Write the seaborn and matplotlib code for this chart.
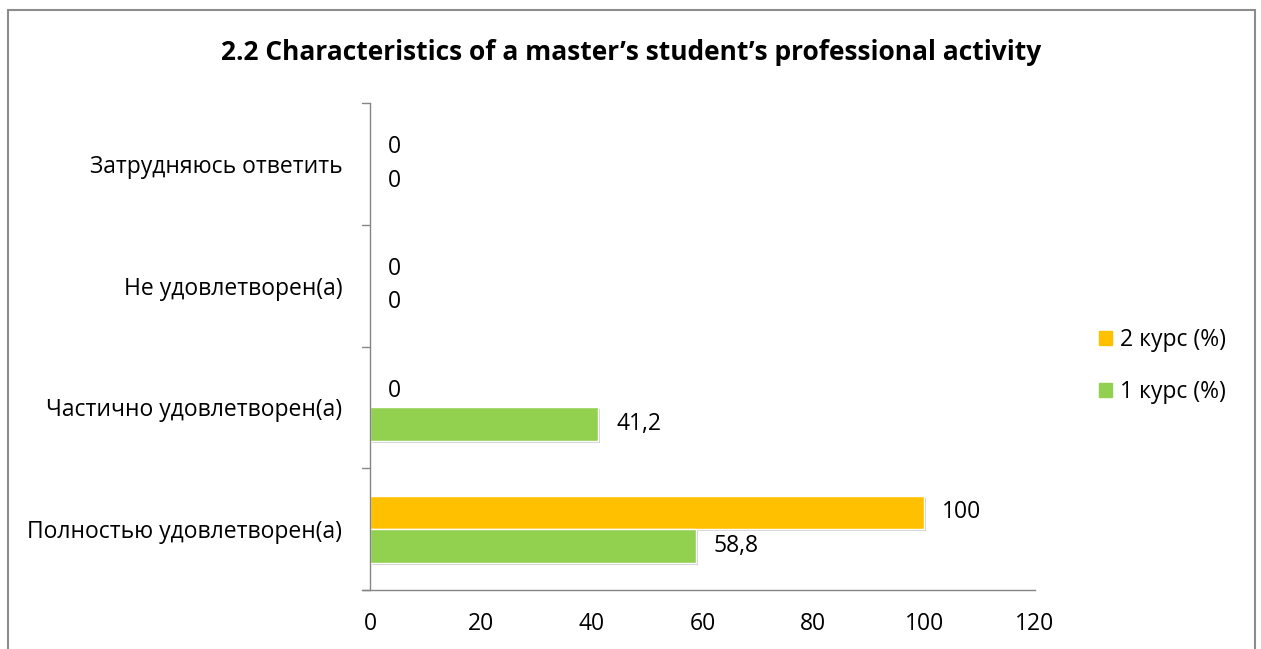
import matplotlib
matplotlib.use("Agg")
import matplotlib.pyplot as plt
import matplotlib.patches as mpatches
import matplotlib.patheffects as pe
import seaborn as sns
import pandas as pd

categories = ["Затрудняюсь ответить", "Не удовлетворен(а)", "Частично удовлетворен(а)", "Полностью удовлетворен(а)"]
series_names = ["2 курс (%)", "1 курс (%)"]
values_2 = [0, 0, 0, 100]
values_1 = [0, 0, 41.2, 58.8]
x_ticks = [0, 20, 40, 60, 80, 100, 120]
title = "2.2 Characteristics of a master’s student’s professional activity"
colors = {"2 курс (%)": "#FFC000", "1 курс (%)": "#92D050"}

sns.set_theme(style="white")
plt.rcParams['font.family'] = ['Open Sans', 'DejaVu Sans']
plt.rcParams['text.color'] = 'black'
plt.rcParams['xtick.color'] = 'black'
plt.rcParams['ytick.color'] = 'black'

FS = 16.5

df = pd.DataFrame({
    "cat": categories * 2,
    "val": values_2 + values_1,
    "series": [series_names[0]] * 4 + [series_names[1]] * 4,
})

W, H = 1261, 649
fig = plt.figure(figsize=(W / 100, H / 100), dpi=100)
ax = fig.add_axes([370 / W, 1 - 590 / H, (1035 - 370) / W, (590 - 103) / H])

sns.barplot(data=df, y="cat", x="val", hue="series", order=categories,
            hue_order=series_names, palette=colors, orient="h", width=0.55,
            saturation=1, edgecolor="white", linewidth=1.0, ax=ax, legend=False)

for patch in ax.patches:
    patch.set_path_effects([pe.SimplePatchShadow(offset=(1.5, -1.5), alpha=0.35, shadow_rgbFace="#777777"), pe.Normal()])

def fmt(v):
    s = f"{v:g}"
    return s.replace(".", ",")

for cont in ax.containers:
    ax.bar_label(cont, labels=[fmt(v) for v in cont.datavalues], padding=13, fontsize=FS, color="black")

ax.set_xlim(0, 120)
ax.set_ylim(len(categories) - 0.5, -0.5)
ax.set_xticks(x_ticks)
ax.set_xticklabels([str(t) for t in x_ticks], fontsize=FS)
ax.set_yticks(range(len(categories)))
ax.set_yticklabels(categories, fontsize=FS)
ax.tick_params(axis="y", length=0, pad=20)
ax.tick_params(axis="x", length=6, width=1, color="#868686", pad=10, direction="out")
# boundary ticks on y axis
for b in [-0.5, 0.5, 1.5, 2.5, 3.5]:
    ax.plot([-1.45, 0], [b, b], color="#868686", lw=1, clip_on=False, transform=ax.transData)
ax.set_xlabel("")
ax.set_ylabel("")
for s in ["top", "right"]:
    ax.spines[s].set_visible(False)
ax.spines["left"].set_color("#868686")
ax.spines["bottom"].set_color("#868686")
ax.spines["left"].set_linewidth(1)
ax.spines["bottom"].set_linewidth(1)
ax.spines["bottom"].set_bounds(-1.45, 120)
ax.spines["bottom"].set_clip_on(False)

handles = [mpatches.Patch(color=colors[n], label=n) for n in series_names]
fig.legend(handles=handles, loc="center left", bbox_to_anchor=(1099 / W, 1 - 366 / H),
           frameon=False, fontsize=FS, handlelength=0.55, handleheight=0.55,
           handletextpad=0.35, labelspacing=1.2, borderaxespad=0, borderpad=0)

fig.text(631 / W, 1 - 52 / H, title, ha="center", va="center", fontsize=19, fontweight="bold")

frame = mpatches.Rectangle((8 / W, -0.05), (1255 - 8) / W, 1 - 10 / H + 0.05,
                           transform=fig.transFigure, fill=False, edgecolor="#8c8c8c", lw=1.5)
fig.patches.append(frame)

fig.savefig("out.png", dpi=100)
